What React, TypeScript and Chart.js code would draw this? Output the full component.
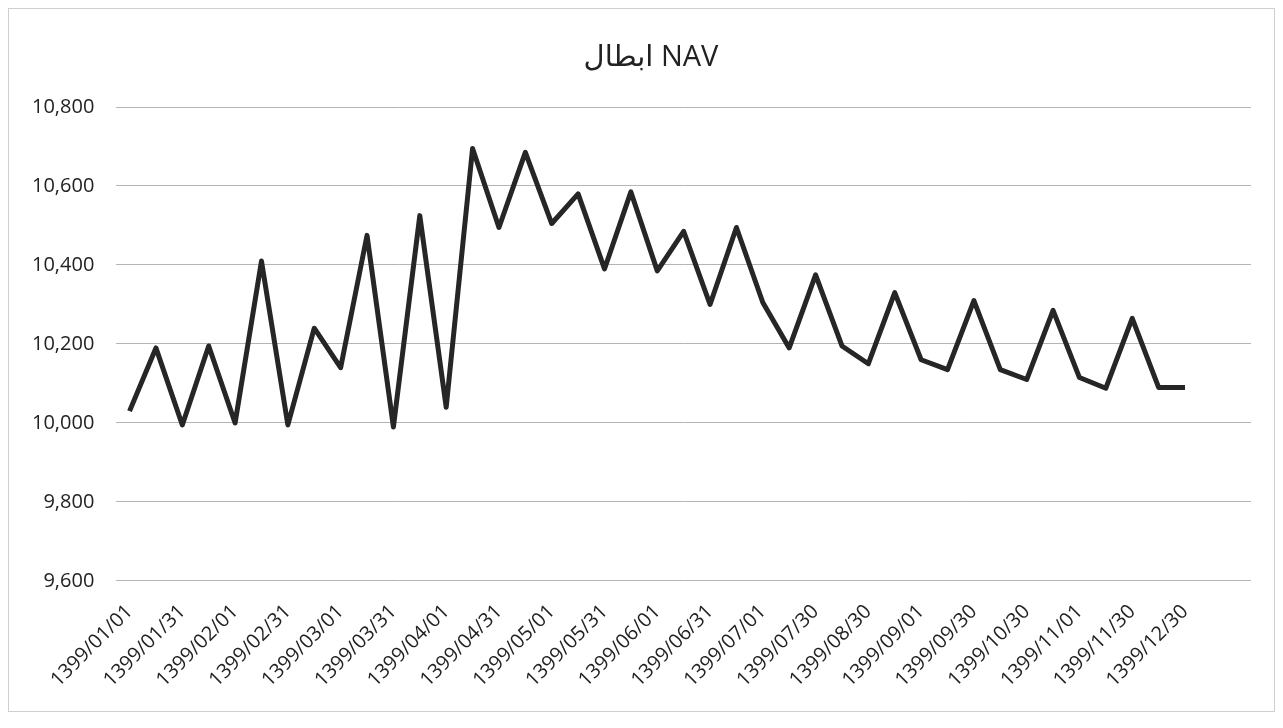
import React, { useEffect, useRef } from "react";
import { Chart, registerables } from "chart.js";

Chart.register(...registerables);

// LRM keeps a left-to-right base direction, as in the reference title
const chartTitle = "\u200Eابطال NAV";

// Labels shown on the category axis (every other category carries a label)
const tickLabels = [
  "1399/01/01", "1399/01/31", "1399/02/01", "1399/02/31", "1399/03/01",
  "1399/03/31", "1399/04/01", "1399/04/31", "1399/05/01", "1399/05/31",
  "1399/06/01", "1399/06/31", "1399/07/01", "1399/07/30", "1399/08/30",
  "1399/09/01", "1399/09/30", "1399/10/30", "1399/11/01", "1399/11/30",
  "1399/12/30", "",
];

// Category slots: labelled slot followed by an unlabelled one
const categories: string[] = [];
tickLabels.forEach((lbl, i) => {
  categories.push(lbl);
  if (i < tickLabels.length - 1) categories.push("");
});

const navValues = [
  10030, 10190, 9995, 10195, 10000, 10410, 9995, 10240, 10140, 10475,
  9990, 10525, 10040, 10695, 10495, 10685, 10505, 10580, 10390, 10585,
  10385, 10485, 10300, 10495, 10305, 10190, 10375, 10195, 10150, 10330,
  10160, 10135, 10310, 10135, 10110, 10285, 10115, 10088, 10265, 10090,
  10090,
];

const yMin = 9600;
const yMax = 10800;
const yStep = 200;

const FONT = "'Open Sans', 'DejaVu Sans', sans-serif";

const titlePlugin = {
  id: "placedTitle",
  afterDraw(chart: any) {
    const ctx = chart.ctx;
    ctx.save();
    ctx.direction = "ltr";
    ctx.font = `normal 29px ${FONT}`;
    ctx.fillStyle = "#222";
    ctx.textAlign = "center";
    ctx.textBaseline = "middle";
    ctx.fillText(chartTitle, 642, 49);
    ctx.restore();
  },
};

export default function App() {
  const canvasRef = useRef<HTMLCanvasElement | null>(null);

  useEffect(() => {
    if (!canvasRef.current) return;
    const chart = new Chart(canvasRef.current, {
      type: "line",
      data: {
        labels: categories,
        datasets: [
          {
            data: navValues,
            borderColor: "#262626",
            borderWidth: 5,
            borderJoinStyle: "round",
            borderCapStyle: "butt",
            pointRadius: 0,
            tension: 0,
            fill: false,
          },
        ],
      },
      options: {
        animation: false,
        responsive: false,
        maintainAspectRatio: false,
        layout: { padding: { left: 1, right: 22, top: 98, bottom: 0 } },
        plugins: {
          legend: { display: false },
          tooltip: { enabled: false },
          title: { display: false },
        },
        scales: {
          x: {
            type: "category",
            offset: true,
            grid: { display: false, drawTicks: false },
            border: { display: false },
            ticks: {
              autoSkip: false,
              maxRotation: 45,
              minRotation: 45,
              padding: 19,
              color: "#222",
              font: { family: FONT, size: 20 },
            },
          },
          y: {
            min: yMin,
            max: yMax,
            grid: { color: "#b4b4b4", lineWidth: 1, drawTicks: false },
            border: { display: false },
            ticks: {
              stepSize: yStep,
              padding: 22,
              color: "#222",
              font: { family: FONT, size: 20 },
              callback: (v: any) => Number(v).toLocaleString("en-US"),
            },
          },
        },
      },
      plugins: [titlePlugin],
    });
    return () => chart.destroy();
  }, []);

  return (
    <div
      style={{
        width: 1265,
        height: 702,
        border: "1px solid #cfcfcf",
        background: "#fff",
      }}
    >
      <canvas ref={canvasRef} width={1265} height={702} style={{ display: "block" }} />
    </div>
  );
}
